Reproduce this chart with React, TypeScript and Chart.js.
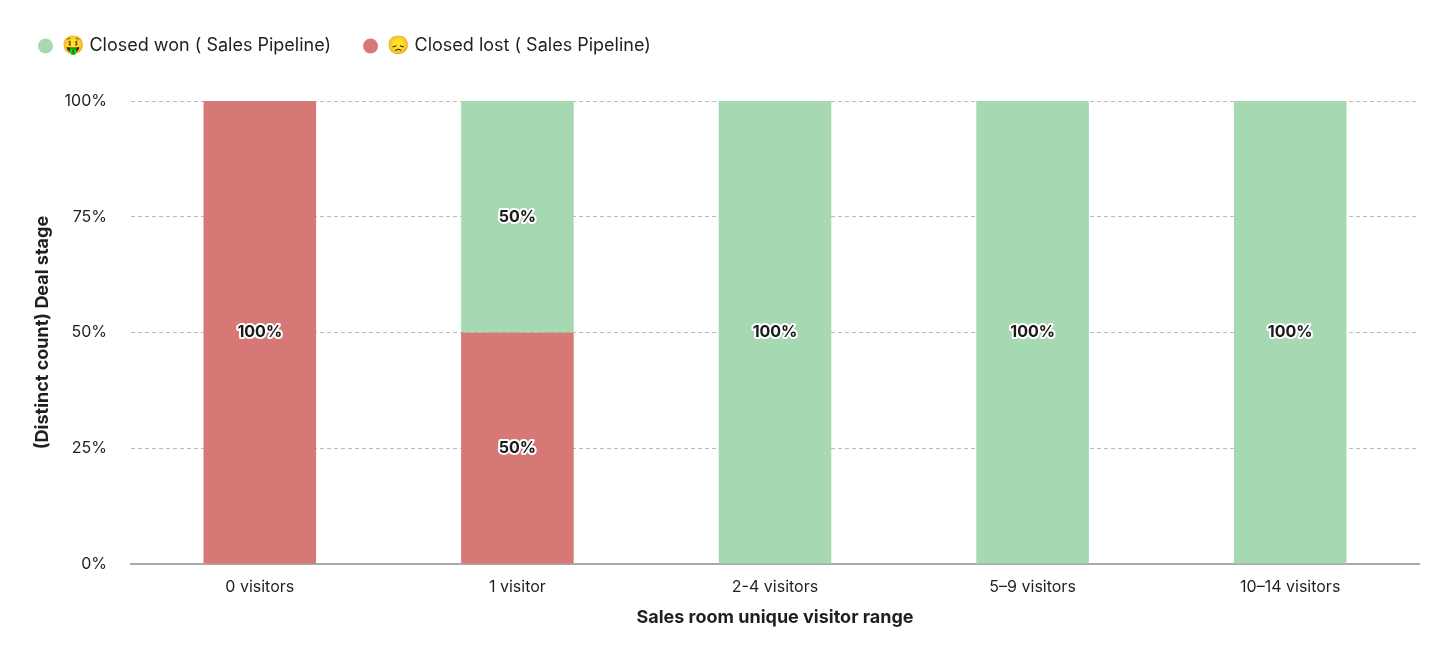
import React, { useEffect, useRef } from "react";
import { Chart, registerables } from "chart.js";

Chart.register(...registerables);

const categories = ["0 visitors", "1 visitor", "2-4 visitors", "5–9 visitors", "10–14 visitors"];
const closedWon = [0, 50, 100, 100, 100];
const closedLost = [100, 50, 0, 0, 0];
const wonLabel = "🤑 Closed won ( Sales Pipeline)";
const lostLabel = "😞 Closed lost ( Sales Pipeline)";
const yTicks = [0, 25, 50, 75, 100];
const xTitle = "Sales room unique visitor range";
const yTitle = "(Distinct count) Deal stage";

const FONT = "Inter, 'Noto Color Emoji', sans-serif";
const TEXT = "#1f1f1f";

const legendSpacing = {
  id: "legendSpacing",
  beforeInit(chart: any) {
    const fit = chart.legend.fit;
    chart.legend.fit = function () {
      fit.call(this);
      this.height += 36;
    };
  },
};

const segmentLabels = {
  id: "segmentLabels",
  afterDatasetsDraw(chart: any) {
    const ctx = chart.ctx;
    ctx.save();
    ctx.font = `700 16px Inter, sans-serif`;
    ctx.textAlign = "center";
    ctx.textBaseline = "middle";
    ctx.lineJoin = "round";
    chart.data.datasets.forEach((ds: any, di: number) => {
      const meta = chart.getDatasetMeta(di);
      meta.data.forEach((bar: any, i: number) => {
        const v = ds.data[i];
        if (!v) return;
        const p = bar.getCenterPoint();
        const text = `${v}%`;
        ctx.strokeStyle = "#ffffff";
        ctx.lineWidth = 4;
        ctx.strokeText(text, p.x, p.y);
        ctx.fillStyle = "#1a1a1a";
        ctx.fillText(text, p.x, p.y);
      });
    });
    ctx.restore();
  },
};

export default function App() {
  const ref = useRef<HTMLCanvasElement>(null);
  useEffect(() => {
    document.body.style.margin = "0";
    document.body.style.background = "#ffffff";
    const chart = new Chart(ref.current!, {
      type: "bar",
      data: {
        labels: categories,
        datasets: [
          { label: lostLabel, data: closedLost, backgroundColor: "#d67876", borderWidth: 0, categoryPercentage: 0.437, barPercentage: 1 },
          { label: wonLabel, data: closedWon, backgroundColor: "#a6d9b2", borderWidth: 0, categoryPercentage: 0.437, barPercentage: 1 },
        ],
      },
      plugins: [legendSpacing, segmentLabels],
      options: {
        responsive: false,
        animation: false,
        devicePixelRatio: 1,
        layout: { padding: { top: 5, left: 6, right: 21, bottom: 43 } },
        plugins: {
          tooltip: { enabled: false },
          legend: {
            position: "top",
            align: "start",
            labels: {
              usePointStyle: true,
              pointStyle: "circle",
              boxHeight: 10.6,
              pointStyleWidth: 15,
              padding: 32,
              color: TEXT,
              font: { family: FONT, size: 18 },
              sort: (a: any, b: any) => b.datasetIndex - a.datasetIndex,
            },
          },
        },
        scales: {
          x: {
            stacked: true,
            grid: { display: false, drawTicks: false },
            border: { color: "#a8a8a8", width: 2 },
            ticks: { color: TEXT, font: { family: FONT, size: 16 }, padding: 14, maxRotation: 0 },
            title: { display: true, text: xTitle, color: TEXT, font: { family: FONT, size: 18, weight: "bold" }, padding: { top: 8, bottom: 0 } },
            afterFit(s: any) { s.height = 64; },
          },
          y: {
            stacked: true,
            min: 0,
            max: 100,
            afterBuildTicks(s: any) { s.ticks = yTicks.map((value) => ({ value })); },
            grid: { color: "#bdbdbd", lineWidth: 1, drawTicks: false },
            border: { display: false, dash: [4, 3] },
            ticks: { color: TEXT, font: { family: FONT, size: 16 }, padding: 24, callback: (v: any) => `${v}%` },
            title: { display: true, text: yTitle, color: TEXT, font: { family: FONT, size: 18, weight: "bold" }, padding: { top: 26, bottom: 0 } },
            afterFit(s: any) { s.width = 125; },
          },
        },
      },
    } as any);
    return () => chart.destroy();
  }, []);
  return <canvas ref={ref} width={1440} height={671} style={{ display: "block" }} />;
}
